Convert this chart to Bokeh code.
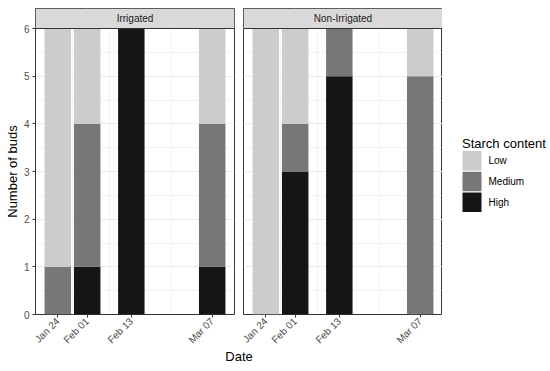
import math
import datetime as dt
from bokeh.plotting import figure
from bokeh.models import (Range1d, FixedTicker, DatetimeTickFormatter, ColumnDataSource,
                          Span, Grid)
from bokeh.layouts import row, column
from bokeh.embed import file_html
from bokeh.resources import INLINE
from bokeh.core.properties import value

# ---------------- data ----------------
dates = ["2021-01-24", "2021-02-01", "2021-02-13", "2021-03-07"]
facets = ["Irrigated", "Non-Irrigated"]
levels = ["Low", "Medium", "High"]
level_colors = ["#cccccc", "#777777", "#151515"]

irrigated_low = [5, 2, 0, 2]
irrigated_medium = [1, 3, 0, 3]
irrigated_high = [0, 1, 6, 1]

nonirrigated_low = [6, 2, 0, 1]
nonirrigated_medium = [0, 1, 1, 5]
nonirrigated_high = [0, 3, 5, 0]

y_ticks = [0, 1, 2, 3, 4, 5, 6]
y_minor = [0.5, 1.5, 2.5, 3.5, 4.5, 5.5]

x_title = "Date"
y_title = "Number of buds"
legend_title = "Starch content"

# ---------------- layout constants ----------------
FONT = "Liberation Sans"
TOP = 8           # space above strips
STRIP_H = 20
PANEL_H = 286
PANEL_W = 199
BOTTOM = 34       # room for rotated tick labels
YLAB_W = 20
AXIS_W = 14
GAP_L, GAP_R = 4, 5
TOTAL_W = 550
FIG_H = TOP + STRIP_H + PANEL_H + BOTTOM
SHIFT = 8         # observed downward offset of the side figures

xs = [dt.datetime.strptime(d, "%Y-%m-%d") for d in dates]
epoch = dt.datetime(1970, 1, 1)
xs_ms = [(x - epoch).total_seconds() * 1000 for x in xs]
mids_ms = [(a + b) / 2 for a, b in zip(xs_ms[:-1], xs_ms[1:])]
res = min(b - a for a, b in zip(xs_ms[:-1], xs_ms[1:]))
bar_w = 0.9 * res
lo = xs_ms[0] - bar_w / 2
hi = xs_ms[-1] + bar_w / 2
exp = 0.05 * (hi - lo)
x0, x1 = lo - exp, hi + exp

ymax = max(max(a + b + c for a, b, c in zip(irrigated_low, irrigated_medium, irrigated_high)),
           max(a + b + c for a, b, c in zip(nonirrigated_low, nonirrigated_medium, nonirrigated_high)))
ytop = ymax * (PANEL_H + STRIP_H) / PANEL_H

cmap = dict(zip(levels, level_colors))
fmt = "%b %d"


def make_panel(name, low, med, high, show_y):
    src = ColumnDataSource(dict(date=xs_ms, Low=low, Medium=med, High=high))
    p = figure(x_axis_type="datetime", x_range=Range1d(x0, x1), y_range=Range1d(0, ytop),
               frame_width=PANEL_W, frame_height=PANEL_H + STRIP_H,
               output_backend="svg", toolbar_location=None,
               y_axis_location="left" if show_y else None,
               min_border_top=TOP, min_border_bottom=BOTTOM,
               min_border_left=AXIS_W if show_y else GAP_R,
               min_border_right=GAP_L if show_y else 0, align="start")
    p.background_fill_color = "white"
    p.border_fill_color = "white"
    p.outline_line_color = "#333333"
    p.outline_line_width = 1

    p.vbar_stack(["High", "Medium", "Low"], x="date", width=bar_w, source=src,
                 fill_color=[cmap["High"], cmap["Medium"], cmap["Low"]], line_color=None)

    ax = p.xaxis[0]
    ax.ticker = FixedTicker(ticks=xs_ms, minor_ticks=mids_ms)
    ax.formatter = DatetimeTickFormatter(days=fmt, months=fmt, years=fmt, hours=fmt,
                                         minutes=fmt, seconds=fmt, milliseconds=fmt,
                                         microseconds=fmt, hourmin=fmt, minsec=fmt)
    ax.major_label_orientation = math.pi / 4
    ax.major_label_text_font = FONT
    ax.major_label_text_font_size = "10px"
    ax.major_label_text_color = "#4d4d4d"
    ax.major_label_standoff = 1
    ax.major_tick_out = 3
    ax.major_tick_in = 0
    ax.major_tick_line_color = "#333333"
    ax.minor_tick_line_color = None
    ax.axis_line_color = None
    ax.axis_label_standoff = 0

    xg = p.xgrid[0]
    xg.grid_line_color = "#ebebeb"
    xg.minor_grid_line_color = "#ebebeb"
    xg.minor_grid_line_width = 0.6

    if show_y:
        ay = p.yaxis[0]
        ay.ticker = FixedTicker(ticks=y_ticks, minor_ticks=y_minor)
        ay.major_label_text_font = FONT
        ay.major_label_text_font_size = "10px"
        ay.major_label_text_color = "#4d4d4d"
        ay.major_label_standoff = 2
        ay.major_tick_out = 3
        ay.major_tick_in = 0
        ay.major_tick_line_color = "#333333"
        ay.minor_tick_line_color = None
        ay.axis_line_color = None
        ay.axis_label_standoff = 0
        yg = p.ygrid[0]
    else:
        yg = Grid(dimension=1, ticker=FixedTicker(ticks=y_ticks, minor_ticks=y_minor))
        p.add_layout(yg)
    yg.grid_line_color = "#ebebeb"
    yg.minor_grid_line_color = "#ebebeb"
    yg.minor_grid_line_width = 0.6

    # facet strip
    p.quad(left=[x0], right=[x1], bottom=[ymax], top=[ytop], fill_color="#d9d9d9", line_color=None)
    p.text(x=[(x0 + x1) / 2], y=[(ymax + ytop) / 2], text=[name], text_align="center",
           text_baseline="middle", text_font=value(FONT), text_font_size="10px",
           text_color="#1a1a1a")
    p.add_layout(Span(location=ymax, dimension="width", line_color="#333333", line_width=1))
    return p


def blank(fig):
    fig.outline_line_color = None
    fig.xgrid.visible = False
    fig.ygrid.visible = False
    fig.background_fill_alpha = 0
    fig.border_fill_alpha = 0


p1 = make_panel(facets[0], irrigated_low, irrigated_medium, irrigated_high, True)
p2 = make_panel(facets[1], nonirrigated_low, nonirrigated_medium, nonirrigated_high, False)

# y-axis title
yl = figure(frame_width=YLAB_W, frame_height=FIG_H, x_range=Range1d(0, 1), y_range=Range1d(0, 1),
            output_backend="svg", toolbar_location=None, x_axis_location=None,
            y_axis_location=None, min_border=0, align="start", title=None)
blank(yl)
yl.text(x=[0.6], y=[(BOTTOM + PANEL_H / 2 + SHIFT) / FIG_H], text=[y_title], angle=math.pi / 2,
        text_align="center", text_baseline="middle", text_font=value(FONT),
        text_font_size="13px", text_color="black")

# legend figure (pixel coordinate system, y measured up from the bottom)
leg_w = TOTAL_W - YLAB_W - (AXIS_W + 1 + PANEL_W + GAP_L) - (GAP_R + PANEL_W)
lf = figure(frame_width=leg_w, frame_height=FIG_H, x_range=Range1d(0, leg_w),
            y_range=Range1d(0, FIG_H), output_backend="svg", toolbar_location=None,
            x_axis_location=None, y_axis_location=None, min_border=0, align="start",
            title=None)
blank(lf)
KEY_X, KEY_W, KEY_H, KEY_STEP = 20, 19, 19.5, 20.8
KEY_TOP = 150.5 - SHIFT          # from the top of the page
TITLE_BASE = 143 - SHIFT
n = len(levels)
tops = [FIG_H - (KEY_TOP + i * KEY_STEP) for i in range(n)]
lf.quad(left=[KEY_X] * n, right=[KEY_X + KEY_W] * n, top=tops,
        bottom=[t - KEY_H for t in tops], fill_color=level_colors, line_color=None)
lf.text(x=[KEY_X + KEY_W + 7] * n, y=[t - KEY_H / 2 for t in tops], text=levels,
        text_align="left", text_baseline="middle", text_font=value(FONT),
        text_font_size="10px", text_color="black")
lf.text(x=[KEY_X - 0.5], y=[FIG_H - TITLE_BASE], text=[legend_title], text_align="left",
        text_baseline="alphabetic", text_font=value(FONT), text_font_size="13px",
        text_color="black")

# x-axis title
DATE_H = 20
df = figure(frame_width=2 * PANEL_W + GAP_L + GAP_R, frame_height=DATE_H,
            x_range=Range1d(0, 1), y_range=Range1d(0, 1),
            output_backend="svg", toolbar_location=None, x_axis_location=None,
            y_axis_location=None, min_border_left=YLAB_W + AXIS_W + 1, min_border_right=0,
            min_border_top=0, min_border_bottom=0, align="start")
blank(df)
df.margin = (-6, 0, 0, 0)
df.text(x=[0.5], y=[0.5], text=[x_title], text_align="center", text_baseline="middle",
        text_font=value(FONT), text_font_size="13px", text_color="black")

layout = column(row(yl, p1, p2, lf, align="start"), df, align="start")
open("out.html", "w").write(file_html(layout, INLINE))
